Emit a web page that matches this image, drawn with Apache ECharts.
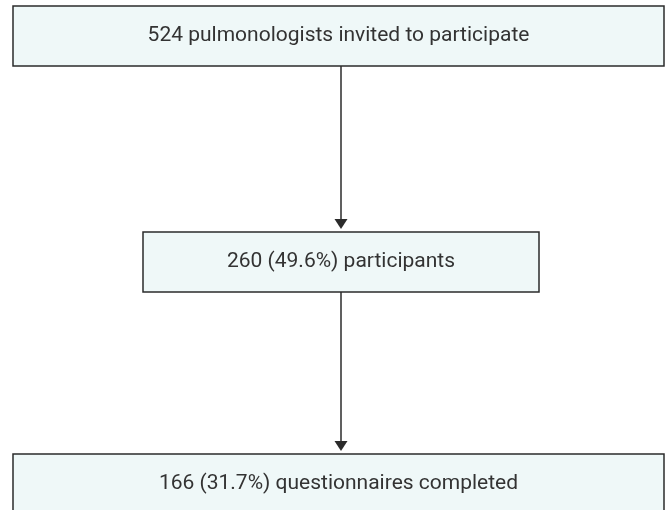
<!DOCTYPE html>
<html>
<head>
<meta charset="utf-8">
<script src="https://cdn.jsdelivr.net/npm/echarts@6/dist/echarts.min.js"></script>
<style>
  html, body { margin: 0; padding: 0; background: #fff; }
  #main { width: 669px; height: 510px; }
</style>
</head>
<body>
<div id="main"></div>
<script>
(function () {
    // 流程各阶段
    var stages = ['pulmonologists invited to participate', 'participants', 'questionnaires completed'];
    var counts = [524, 260, 166];
    var percents = ['', '49.6%', '31.7%'];

    // 方框位置 (left, top, width, height)
    var boxes = [
        [13, 6, 651, 60],
        [143, 232, 396, 60],
        [13, 454, 651, 62]
    ];

    var lineColor = '#2b2b2b';
    var fillColor = '#eff8f8';
    var arrowX = 341;

    function labelOf(i) {
        return percents[i] ? counts[i] + ' (' + percents[i] + ') ' + stages[i]
                           : counts[i] + ' ' + stages[i];
    }

    var elements = [];

    boxes.forEach(function (b, i) {
        elements.push({
            type: 'rect',
            shape: { x: b[0], y: b[1], width: b[2], height: b[3] },
            style: { fill: fillColor, stroke: lineColor, lineWidth: 1.5 }
        });
        elements.push({
            type: 'text',
            x: b[0] + b[2] / 2,
            y: b[1] + 29.5,
            style: {
                text: labelOf(i),
                fill: '#333',
                font: '21px Roboto',
                align: 'center',
                verticalAlign: 'middle'
            }
        });
    });

    // 箭头
    for (var i = 0; i < boxes.length - 1; i++) {
        var y0 = boxes[i][1] + boxes[i][3];
        var y1 = boxes[i + 1][1] - 3;
        elements.push({
            type: 'line',
            shape: { x1: arrowX, y1: y0, x2: arrowX, y2: y1 - 8 },
            style: { stroke: lineColor, lineWidth: 1.5 }
        });
        elements.push({
            type: 'polygon',
            shape: { points: [[arrowX - 6.5, y1 - 10], [arrowX + 6.5, y1 - 10], [arrowX, y1]] },
            style: { fill: lineColor }
        });
    }

    var myChart = echarts.init(document.getElementById('main'));
    myChart.setOption({
        animation: false,
        graphic: { elements: elements }
    });
})();
</script>
</body>
</html>
